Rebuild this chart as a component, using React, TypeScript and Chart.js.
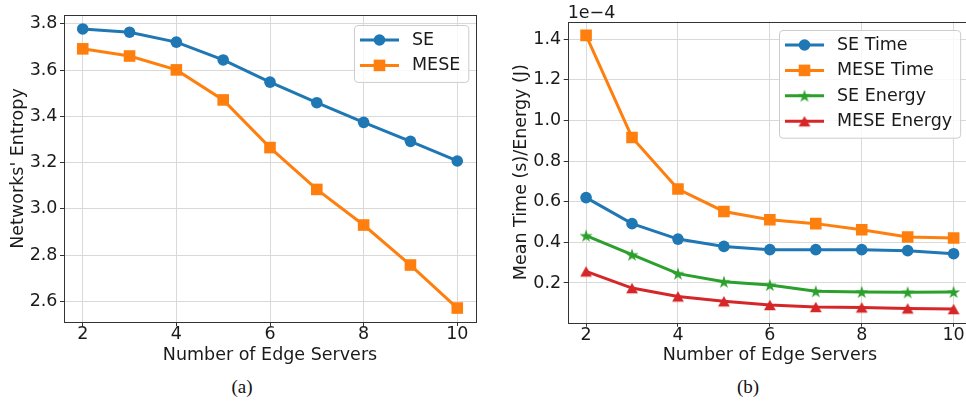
import React, { useEffect, useRef } from "react";
import { Chart, registerables } from "chart.js";

Chart.register(...registerables);

// ---------------- data ----------------
const serverCounts = [2, 3, 4, 5, 6, 7, 8, 9, 10];
const entropySE = [3.778, 3.764, 3.721, 3.644, 3.548, 3.459, 3.374, 3.292, 3.207];
const entropyMESE = [3.692, 3.661, 3.601, 3.471, 3.265, 3.084, 2.93, 2.757, 2.571];
// values below are in units of 1e-4
const timeSE = [0.62, 0.492, 0.416, 0.38, 0.364, 0.364, 0.364, 0.359, 0.344];
const timeMESE = [1.418, 0.916, 0.662, 0.552, 0.511, 0.492, 0.462, 0.426, 0.421];
const energySE = [0.433, 0.339, 0.246, 0.206, 0.19, 0.159, 0.156, 0.154, 0.156];
const energyMESE = [0.257, 0.175, 0.134, 0.11, 0.092, 0.082, 0.08, 0.075, 0.072];
const serverTicks = [2, 4, 6, 8, 10];
const entropyTicks = [2.6, 2.8, 3.0, 3.2, 3.4, 3.6, 3.8];
const costTicks = [0.2, 0.4, 0.6, 0.8, 1.0, 1.2, 1.4];
const costScaleLabel = "1e\u22124";
const xTitle = "Number of Edge Servers";

// ---------------- style ----------------
const FAMILY = "'DejaVu Sans', sans-serif";
const FS = 17.5;
const INK = "#1a1a1a";
const GRID = "#d9d9d9";
const TICK = "#333333";
const FRAME = "#333333";
const BLUE = "#1f77b4";
const ORANGE = "#ff7f0e";
const GREEN = "#2ca02c";
const RED = "#d62728";

function paddedRange(values: number[]): [number, number] {
  const lo = Math.min(...values);
  const hi = Math.max(...values);
  const m = (hi - lo) * 0.05;
  return [lo - m, hi + m];
}

function markerImage(shape: "star" | "triangle", color: string): HTMLCanvasElement {
  const c = document.createElement("canvas");
  const s = 16;
  c.width = s;
  c.height = s;
  const ctx = c.getContext("2d")!;
  const cx = s / 2;
  const cy = s / 2;
  ctx.fillStyle = color;
  ctx.beginPath();
  if (shape === "star") {
    const R = 6.8;
    const r = R * 0.381966;
    for (let i = 0; i < 10; i++) {
      const a = -Math.PI / 2 + (i * Math.PI) / 5;
      const rad = i % 2 === 0 ? R : r;
      ctx.lineTo(cx + rad * Math.cos(a), cy + 0.6 + rad * Math.sin(a));
    }
  } else {
    const hw = 5.9;
    const hh = 5.3;
    ctx.moveTo(cx, cy - hh);
    ctx.lineTo(cx + hw, cy + hh);
    ctx.lineTo(cx - hw, cy + hh);
  }
  ctx.closePath();
  ctx.fill();
  return c;
}

function drawMarker(ctx: CanvasRenderingContext2D, style: any, radius: number, color: string, x: number, y: number) {
  if (style && typeof style === "object") {
    ctx.drawImage(style, x - style.width / 2, y - style.height / 2);
    return;
  }
  ctx.fillStyle = color;
  ctx.beginPath();
  if (style === "rect") {
    const s = radius * Math.SQRT1_2;
    ctx.rect(x - s, y - s, 2 * s, 2 * s);
  } else {
    ctx.arc(x, y, radius, 0, Math.PI * 2);
  }
  ctx.fill();
}

const decorPlugin = {
  id: "panelDecor",
  afterDatasetsDraw(chart: any) {
    const { ctx, chartArea: a } = chart;
    ctx.save();
    ctx.strokeStyle = FRAME;
    ctx.lineWidth = 1;
    ctx.strokeRect(Math.round(a.left) + 0.5, Math.round(a.top) + 0.5, Math.round(a.right) - Math.round(a.left), Math.round(a.bottom) - Math.round(a.top));
    ctx.restore();
  },
  afterDraw(chart: any, _args: any, opts: any) {
    const { ctx, chartArea: a } = chart;
    ctx.save();
    ctx.font = `${FS}px ${FAMILY}`;
    if (opts.offsetText) {
      ctx.fillStyle = INK;
      ctx.textAlign = "left";
      ctx.textBaseline = "alphabetic";
      ctx.fillText(opts.offsetText, a.left, a.top - 4);
    }
    const items = chart.data.datasets.map((ds: any) => ({
      label: ds.label,
      color: ds.borderColor,
      style: ds.pointStyle,
      radius: ds.pointRadius,
    }));
    const textW = Math.max(...items.map((i: any) => ctx.measureText(i.label).width));
    const padL = 6, handle = 39, gap = 13, padR = 8, padT = 15, padB = 16.5, row = 25.4;
    const w = padL + handle + gap + textW + padR;
    const h = padT + (items.length - 1) * row + padB;
    const x0 = Math.round(a.right - opts.insetRight - w);
    const y0 = Math.round(a.top + opts.insetTop);
    ctx.beginPath();
    ctx.roundRect(x0 + 0.5, y0 + 0.5, w, h, 3.5);
    ctx.fillStyle = "rgba(255,255,255,0.8)";
    ctx.fill();
    ctx.strokeStyle = "#cccccc";
    ctx.lineWidth = 1;
    ctx.stroke();
    items.forEach((it: any, i: number) => {
      const cy = y0 + padT + i * row;
      ctx.strokeStyle = it.color;
      ctx.lineWidth = 3;
      ctx.beginPath();
      ctx.moveTo(x0 + padL, cy);
      ctx.lineTo(x0 + padL + handle, cy);
      ctx.stroke();
      drawMarker(ctx, it.style, it.radius, it.color, x0 + padL + handle / 2, cy);
      ctx.fillStyle = INK;
      ctx.textAlign = "left";
      ctx.textBaseline = "middle";
      ctx.fillText(it.label, x0 + padL + handle + gap, cy + 0.5);
    });
    ctx.restore();
  },
};

type Series = { label: string; data: number[]; color: string; style: any; radius: number };
type PanelSpec = {
  series: Series[];
  yTicks: number[];
  yTitle: string;
  yWidth: number;
  yTitlePad: number;
  padTop: number;
  padRight: number;
  xHeight: number;
  insetRight: number;
  insetTop: number;
  offsetText?: string;
};

function buildConfig(spec: PanelSpec): any {
  const [yMin, yMax] = paddedRange(spec.series.flatMap((s) => s.data));
  const [xMin, xMax] = paddedRange(serverCounts);
  const tickFont = { family: FAMILY, size: FS, lineHeight: 1 };
  const titleFont = { family: FAMILY, size: FS, lineHeight: 1.2 };
  return {
    type: "line",
    data: {
      datasets: spec.series.map((s) => ({
        label: s.label,
        data: serverCounts.map((x, i) => ({ x, y: s.data[i] })),
        borderColor: s.color,
        backgroundColor: s.color,
        borderWidth: 3,
        pointStyle: s.style,
        pointRadius: s.radius,
        pointHoverRadius: s.radius,
        pointBorderWidth: 0,
        pointBackgroundColor: s.color,
        pointBorderColor: s.color,
        tension: 0,
        fill: false,
      })),
    },
    options: {
      animation: false,
      responsive: false,
      maintainAspectRatio: false,
      devicePixelRatio: 1,
      events: [],
      layout: { autoPadding: false, padding: { left: 0, top: spec.padTop, right: spec.padRight, bottom: 0 } },
      plugins: {
        legend: { display: false },
        tooltip: { enabled: false },
        panelDecor: { insetRight: spec.insetRight, insetTop: spec.insetTop, offsetText: spec.offsetText },
      },
      scales: {
        x: {
          type: "linear",
          min: xMin,
          max: xMax,
          bounds: "data",
          afterBuildTicks: (sc: any) => {
            sc.ticks = serverTicks.map((v) => ({ value: v }));
          },
          afterFit: (sc: any) => {
            sc.height = spec.xHeight;
            sc.paddingLeft = 0;
            sc.paddingRight = 0;
          },
          ticks: {
            font: tickFont,
            color: INK,
            padding: 0,
            maxRotation: 0,
            autoSkip: false,
            callback: (v: any) => String(v),
          },
          grid: { color: GRID, lineWidth: 1, tickLength: 4, tickColor: TICK, drawTicks: true },
          border: { display: false },
          title: { display: true, text: xTitle, font: titleFont, color: INK, padding: { top: 0, bottom: 4 } },
        },
        y: {
          type: "linear",
          min: yMin,
          max: yMax,
          bounds: "data",
          afterBuildTicks: (sc: any) => {
            sc.ticks = spec.yTicks.map((v) => ({ value: v }));
          },
          afterFit: (sc: any) => {
            sc.width = spec.yWidth;
            sc.paddingTop = 0;
            sc.paddingBottom = 0;
          },
          ticks: {
            font: tickFont,
            color: INK,
            padding: 2.5,
            autoSkip: false,
            callback: (v: any) => Number(v).toFixed(1),
          },
          grid: { color: GRID, lineWidth: 1, tickLength: 4, tickColor: TICK, drawTicks: true },
          border: { display: false },
          title: { display: true, text: spec.yTitle, font: titleFont, color: INK, padding: { top: spec.yTitlePad, bottom: 0 } },
        },
      },
    },
    plugins: [decorPlugin],
  };
}

function ChartCanvas({ build, left, width, height }: { build: () => any; left: number; width: number; height: number }) {
  const ref = useRef<HTMLCanvasElement>(null);
  useEffect(() => {
    const chart = new Chart(ref.current!, build());
    return () => chart.destroy();
  }, []);
  return (
    <canvas
      ref={ref}
      width={width}
      height={height}
      style={{ position: "absolute", left, top: 0, width, height, display: "block" }}
    />
  );
}

function buildEntropy() {
  return buildConfig({
    series: [
      { label: "SE", data: entropySE, color: BLUE, style: "circle", radius: 5.8 },
      { label: "MESE", data: entropyMESE, color: ORANGE, style: "rect", radius: 8.2 },
    ],
    yTicks: entropyTicks,
    yTitle: "Networks' Entropy",
    yWidth: 64,
    yTitlePad: 8.3,
    padTop: 15,
    padRight: 7,
    xHeight: 48,
    insetRight: 8,
    insetTop: 10,
  });
}

function buildCost() {
  return buildConfig({
    series: [
      { label: "SE Time", data: timeSE, color: BLUE, style: "circle", radius: 5.8 },
      { label: "MESE Time", data: timeMESE, color: ORANGE, style: "rect", radius: 8.2 },
      { label: "SE Energy", data: energySE, color: GREEN, style: markerImage("star", GREEN), radius: 6 },
      { label: "MESE Energy", data: energyMESE, color: RED, style: markerImage("triangle", RED), radius: 6 },
    ],
    yTicks: costTicks,
    yTitle: "Mean Time (s)/Energy (J)",
    yWidth: 84.7,
    yTitlePad: 27.6,
    padTop: 21.7,
    padRight: 3,
    xHeight: 47.3,
    insetRight: 12,
    insetTop: 8.3,
    offsetText: costScaleLabel,
  });
}

const captionStyle = (center: number): React.CSSProperties => ({
  position: "absolute",
  left: center - 50,
  top: 376,
  width: 100,
  textAlign: "center",
  fontFamily: "'Liberation Serif', serif",
  fontSize: 19,
  lineHeight: "22px",
  color: "#111",
});

export default function App() {
  return (
    <div
      style={{
        position: "absolute",
        left: 0,
        top: 0,
        width: 966,
        height: 401,
        overflow: "hidden",
        background: "#ffffff",
      }}
    >
      <ChartCanvas build={buildEntropy} left={0} width={483} height={370} />
      <ChartCanvas build={buildCost} left={483} width={492} height={370} />
      <div style={captionStyle(242)}>(a)</div>
      <div style={captionStyle(748)}>(b)</div>
    </div>
  );
}
